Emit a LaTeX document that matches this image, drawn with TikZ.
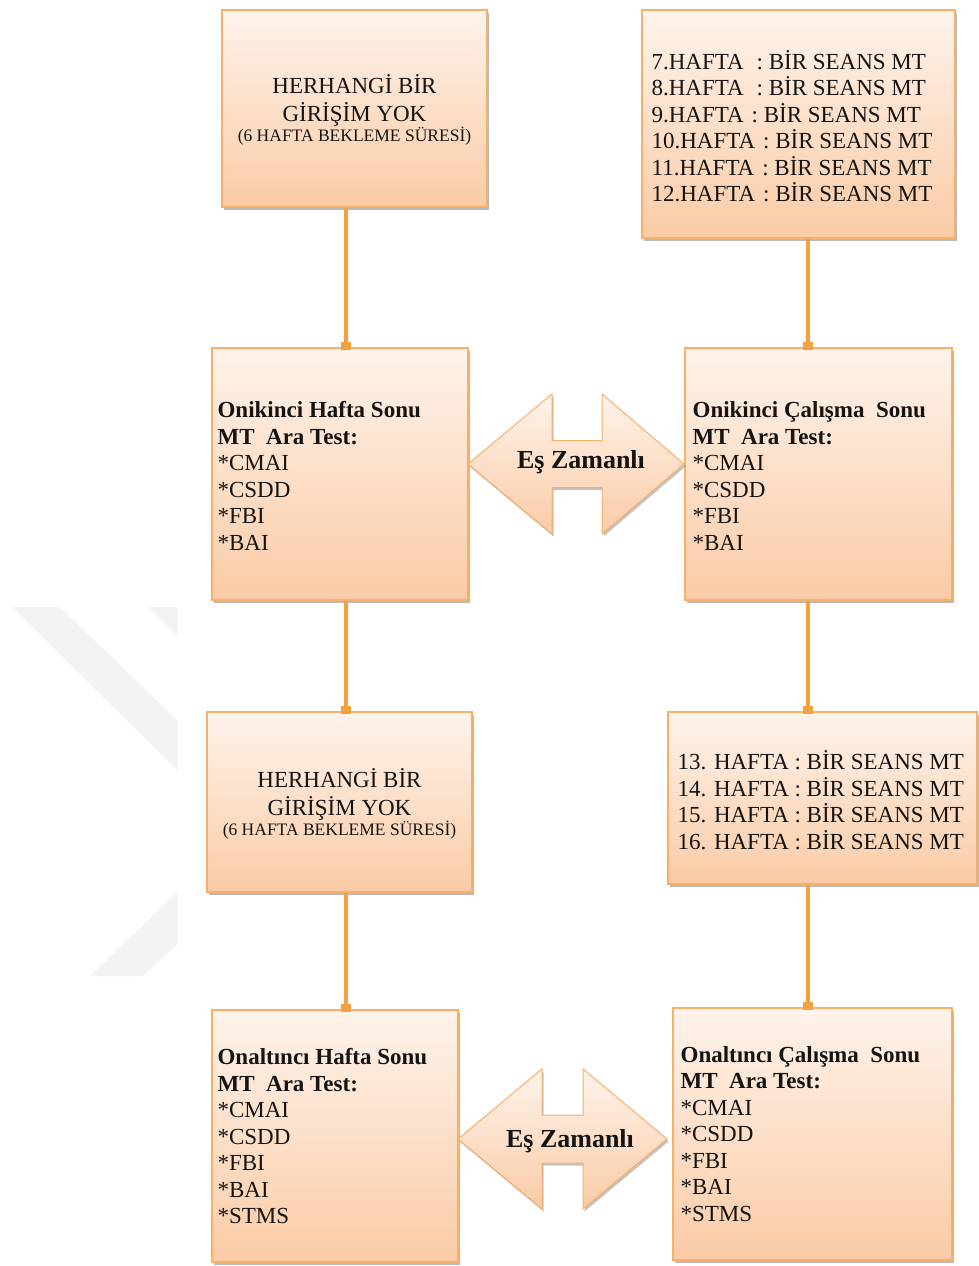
\documentclass[tikz,border=0pt]{standalone}
\usepackage{fontspec}
\setmainfont{Liberation Serif}
\usetikzlibrary{shadows,arrows.meta}
\definecolor{boxtop}{RGB}{254,243,235}
\definecolor{boxbot}{RGB}{250,203,166}
\definecolor{boxline}{RGB}{246,176,104}
\definecolor{connc}{RGB}{241,162,62}
\definecolor{wm}{RGB}{243,243,243}
\definecolor{ink}{RGB}{20,20,20}
\begin{document}
\begin{tikzpicture}[x=1pt,y=-1pt,
  box/.style={draw=boxline, line width=1.2pt, top color=boxtop, bottom color=boxbot,
    inner sep=0pt, text=ink,
    drop shadow={shadow xshift=1.5pt, shadow yshift=-2.5pt, opacity=.45, fill=black!60}},
  conn/.style={draw=connc, line width=3.2pt, -{Square[length=8pt,width=10pt]}, shorten >=-3pt},
  ltxt/.style={font=\fontsize{23}{26.5}\selectfont, align=left, anchor=west, inner sep=0pt, text=ink},
  ctxt/.style={font=\fontsize{23}{28}\selectfont, align=center},
  sync/.style={draw=boxline, line width=1pt, top color=boxtop, bottom color=boxbot,
    drop shadow={shadow xshift=1.5pt, shadow yshift=-2.5pt, opacity=.4, fill=black!60}},
  synctxt/.style={font=\fontsize{26}{28}\selectfont\bfseries, inner sep=0pt, text=ink}
]
\useasboundingbox (0,0) rectangle (979,1266);

% watermark
\fill[wm] (12,607) -- (60,607) -- (177,720) -- (177,770) -- cycle;
\fill[wm] (148,607) -- (177,607) -- (177,636) -- cycle;
\fill[wm] (177,892) -- (177,945) -- (143,976) -- (90,976) -- cycle;

% boxes
\node[box, ctxt, minimum width=265pt, minimum height=197pt] (A) at (354.5,108.5)
  {\\[-6pt]HERHANGİ BİR\\GİRİŞİM YOK\\[-8pt]{\fontsize{17.5}{20}\selectfont (6 HAFTA BEKLEME SÜRESİ)}};
\node[box, minimum width=313pt, minimum height=228pt] (B) at (798.5,124) {};
\node[box, minimum width=256pt, minimum height=252pt] (C) at (340,474) {};
\node[box, minimum width=267pt, minimum height=252pt] (D) at (818.5,474) {};
\node[box, ctxt, minimum width=265pt, minimum height=180pt] (E) at (339.5,802)
  {\\[-6pt]HERHANGİ BİR\\GİRİŞİM YOK\\[-8pt]{\fontsize{17.5}{20}\selectfont (6 HAFTA BEKLEME SÜRESİ)}};
\node[box, minimum width=309pt, minimum height=172pt] (F) at (822.5,798) {};
\node[box, minimum width=246pt, minimum height=252pt] (G) at (335,1136) {};
\node[box, minimum width=279pt, minimum height=252pt] (H) at (812.5,1134) {};

% box texts
\node[ltxt] (Bt) at ([xshift=10pt,yshift=-2pt]B.west)
  {7.HAFTA\hspace{13pt}: BİR SEANS MT\\
   8.HAFTA\hspace{13pt}: BİR SEANS MT\\
   9.HAFTA\hspace{8pt}: BİR SEANS MT\\
   10.HAFTA\hspace{8pt}: BİR SEANS MT\\
   11.HAFTA\hspace{8pt}: BİR SEANS MT\\
   12.HAFTA\hspace{8pt}: BİR SEANS MT};
\node[ltxt] (Ct) at ([xshift=6pt,yshift=-2pt]C.west)
  {\textbf{Onikinci Hafta Sonu}\\
   \textbf{MT\ \ Ara Test:}\\
   *CMAI\\ *CSDD\\ *FBI\\ *BAI};
\node[ltxt] (Dt) at ([xshift=8pt,yshift=-2pt]D.west)
  {\textbf{Onikinci Çalışma\ \ Sonu}\\
   \textbf{MT\ \ Ara Test:}\\
   *CMAI\\ *CSDD\\ *FBI\\ *BAI};
\node[ltxt] (Ft) at ([xshift=10pt,yshift=-2pt]F.west)
  {13. HAFTA : BİR SEANS MT\\
   14. HAFTA : BİR SEANS MT\\
   15. HAFTA : BİR SEANS MT\\
   16. HAFTA : BİR SEANS MT};
\node[ltxt] (Gt) at ([xshift=6pt]G.west)
  {\textbf{Onaltıncı Hafta Sonu}\\
   \textbf{MT\ \ Ara Test:}\\
   *CMAI\\ *CSDD\\ *FBI\\ *BAI\\ *STMS};
\node[ltxt] (Ht) at ([xshift=8pt]H.west)
  {\textbf{Onaltıncı Çalışma\ \ Sonu}\\
   \textbf{MT\ \ Ara Test:}\\
   *CMAI\\ *CSDD\\ *FBI\\ *BAI\\ *STMS};

% double arrows
\path[sync] (468,464) -- (552,394) -- (552,440.5) -- (602,440.5) -- (602,394) -- (684,464)
  -- (602,534) -- (602,487.5) -- (552,487.5) -- (552,534) -- cycle;
\node[synctxt] (S1) at (581,462) {Eş Zamanlı};
\path[sync] (458,1139) -- (542,1069) -- (542,1115) -- (583,1115) -- (583,1069) -- (667,1139)
  -- (583,1209) -- (583,1163) -- (542,1163) -- (542,1209) -- cycle;
\node[synctxt] (S2) at (570,1141) {Eş Zamanlı};

% connectors
\coordinate (cl) at (346,0);
\coordinate (cr) at (808,0);
\draw[conn] (A.south -| cl) -- (C.north -| cl);
\draw[conn] (C.south -| cl) -- (E.north -| cl);
\draw[conn] (E.south -| cl) -- (G.north -| cl);
\draw[conn] (B.south -| cr) -- (D.north -| cr);
\draw[conn] (D.south -| cr) -- (F.north -| cr);
\draw[conn] (F.south -| cr) -- (H.north -| cr);
\end{tikzpicture}
\end{document}
